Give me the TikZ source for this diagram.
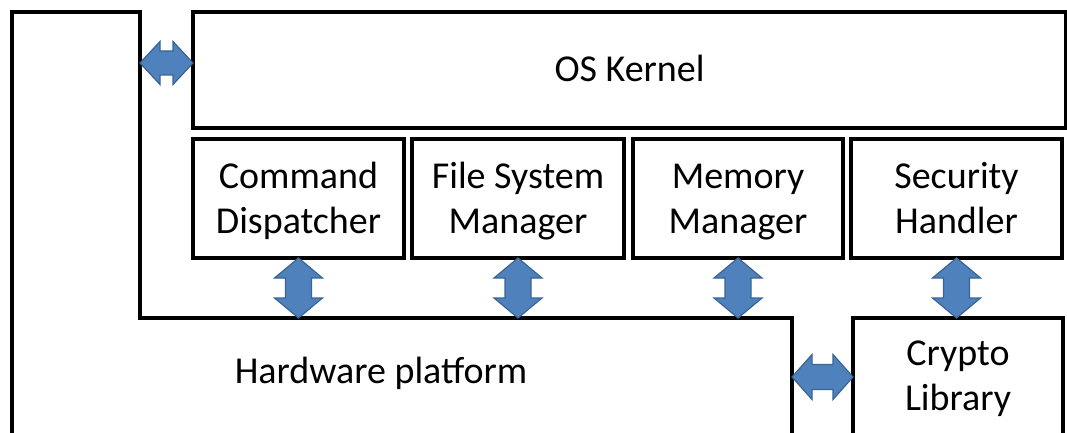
\documentclass[tikz,border=0pt]{standalone}
\usepackage{fontspec}
\setmainfont{Carlito}
\definecolor{arrfill}{HTML}{4F81BD}
\definecolor{arrline}{HTML}{3A6494}
\begin{document}
\begin{tikzpicture}[x=1pt,y=-1pt,
  box/.style={draw=black, line width=3.5pt, fill=white, inner sep=0pt, outer sep=0pt, align=center,
    font=\fontsize{38}{45}\selectfont, text height=30pt, text depth=6pt},
  twoline/.style={text height=75pt, text depth=6pt},
  lbl/.style={align=center, font=\fontsize{38}{45}\selectfont, inner sep=0pt, text height=30pt, text depth=6pt},
  blockarrow/.style={fill=arrfill, draw=arrline, line width=1.2pt, line join=miter}]
\useasboundingbox (0,0) rectangle (1067,433);
\clip (0,0) rectangle (1067,433);
\fill[white] (0,0) rectangle (1067,433);
% hardware platform L-shape
\coordinate (hwbl) at (12,460);
\coordinate (hwtl) at (12,12);
\coordinate (hwtr) at (140,12);
\coordinate (hwstep) at (140,318);
\coordinate (hwstepr) at (792,318);
\coordinate (hwbr) at (792,460);
\draw[line width=3.5pt, line join=miter] (hwbl) -- (hwtl) -- (hwtr) -- (hwstep) -- (hwstepr) -- (hwbr);
\node[lbl] (hwlabel) at (381,371) {Hardware platform};
% kernel and components
\node[box, minimum width=873, minimum height=116] (kernel) at (629.5,70) {OS Kernel};
\node[box, twoline, minimum width=211, minimum height=119] (cmd) at (298.5,198.5) {Command\\Dispatcher};
\node[box, twoline, minimum width=212, minimum height=119] (fsm) at (518,198.5) {File System\\Manager};
\node[box, twoline, minimum width=210, minimum height=119] (mem) at (738,198.5) {Memory\\Manager};
\node[box, twoline, minimum width=211, minimum height=119] (sec) at (956.5,198.5) {Security\\Handler};
\node[box, minimum width=210, minimum height=160, anchor=north] (crypto) at (958,318) {};
\node[lbl, twoline] (cryptolabel) at (958,375.5) {Crypto\\Library};
% vertical double block arrows (from box bottom to platform top, 60 long)
\foreach \n in {cmd,fsm,mem,sec}{
  \draw[blockarrow] (\n.south) -- ++(24,20) -- ++(-11,0) -- ++(0,20) -- ++(11,0)
    -- ++(-24,20) -- ++(-24,-20) -- ++(11,0) -- ++(0,-20) -- ++(-11,0) -- cycle;
}
% horizontal arrow platform <-> kernel
\coordinate (ka) at (hwtr |- 0,63);
\draw[blockarrow] (ka) -- ++(20,-21.5) -- ++(0,9.5) -- ++(13,0) -- ++(0,-9.5)
  -- ++(20,21.5) -- ++(-20,21.5) -- ++(0,-9.5) -- ++(-13,0) -- ++(0,9.5) -- cycle;
% horizontal arrow platform <-> crypto
\coordinate (ca) at (hwstepr |- 0,377);
\draw[blockarrow] (ca) -- ++(20,-22.5) -- ++(0,10) -- ++(21,0) -- ++(0,-10)
  -- ++(20,22.5) -- ++(-20,22.5) -- ++(0,-10) -- ++(-21,0) -- ++(0,10) -- cycle;
\end{tikzpicture}
\end{document}
